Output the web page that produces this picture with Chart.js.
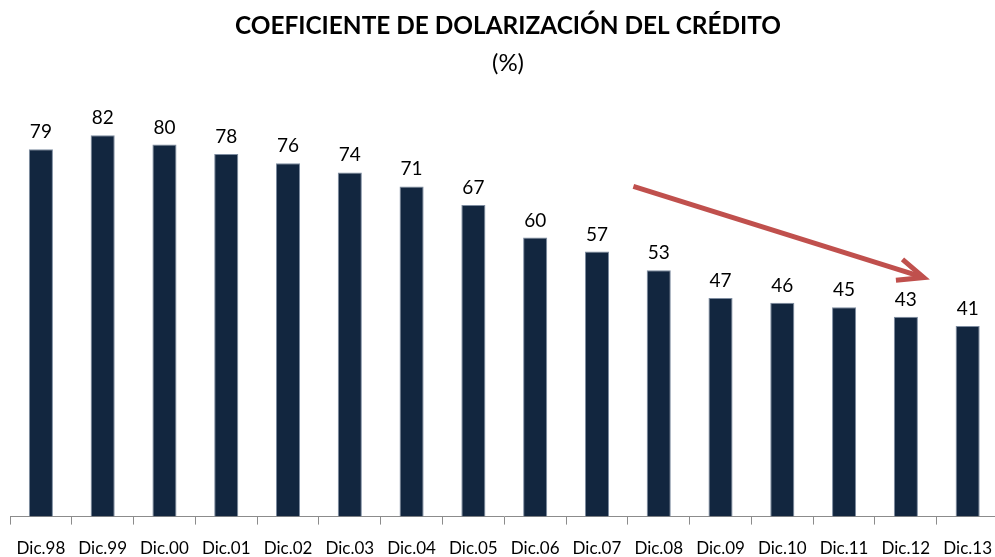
<!DOCTYPE html>
<html>
<head>
<meta charset="utf-8">
<script src="https://cdn.jsdelivr.net/npm/chart.js@4"></script>
<style>
  html, body { margin: 0; padding: 0; background: #fff; overflow: hidden; }
  #wrap { width: 995px; height: 557px; overflow: hidden; position: relative; }
  canvas { display: block; }
</style>
</head>
<body>
<div id="wrap"><canvas id="c" width="1006" height="573"></canvas></div>
<script>
const categories = ['Dic.98','Dic.99','Dic.00','Dic.01','Dic.02','Dic.03','Dic.04','Dic.05','Dic.06','Dic.07','Dic.08','Dic.09','Dic.10','Dic.11','Dic.12','Dic.13'];
const values = [79, 82, 80, 78, 76, 74, 71, 67, 60, 57, 53, 47, 46, 45, 43, 41];
const titleText = 'COEFICIENTE DE DOLARIZACIÓN DEL CRÉDITO';
const subtitleText = '(%)';
// trend arrow, in data units (category index, value)
const arrowStart = [9.59, 71.0];
const arrowEnd = [14.29, 51.4];

const valueLabels = {
  id: 'valueLabels',
  afterDatasetsDraw(chart) {
    const ctx = chart.ctx;
    const meta = chart.getDatasetMeta(0);
    ctx.save();
    ctx.font = '19px Lato';
    ctx.fillStyle = '#000';
    ctx.textAlign = 'center';
    ctx.textBaseline = 'alphabetic';
    meta.data.forEach((el, i) => {
      ctx.fillText(String(values[i]), el.x, el.y - 11);
    });
    ctx.restore();
  }
};

const trendArrow = {
  id: 'trendArrow',
  afterDatasetsDraw(chart) {
    const xs = chart.scales.x, ys = chart.scales.y;
    const x1 = xs.getPixelForValue(arrowStart[0]), y1 = ys.getPixelForValue(arrowStart[1]);
    const x2 = xs.getPixelForValue(arrowEnd[0]), y2 = ys.getPixelForValue(arrowEnd[1]);
    const ctx = chart.ctx;
    const ang = Math.atan2(y2 - y1, x2 - x1);
    const len = 28, spread = 23 * Math.PI / 180;
    ctx.save();
    ctx.strokeStyle = '#c0504d';
    ctx.lineWidth = 5;
    ctx.lineCap = 'butt';
    ctx.lineJoin = 'miter';
    ctx.beginPath();
    ctx.moveTo(x1, y1);
    ctx.lineTo(x2 - 2 * Math.cos(ang), y2 - 2 * Math.sin(ang));
    ctx.stroke();
    ctx.beginPath();
    ctx.moveTo(x2 - len * Math.cos(ang - spread), y2 - len * Math.sin(ang - spread));
    ctx.lineTo(x2, y2);
    ctx.lineTo(x2 - len * Math.cos(ang + spread), y2 - len * Math.sin(ang + spread));
    ctx.stroke();
    ctx.restore();
  }
};

new Chart(document.getElementById('c'), {
  type: 'bar',
  data: {
    labels: categories,
    datasets: [{
      data: values,
      backgroundColor: '#12263f',
      borderColor: '#7d8ca0',
      borderWidth: 1,
      categoryPercentage: 1,
      barPercentage: 0.39
    }]
  },
  options: {
    responsive: false,
    animation: false,
    devicePixelRatio: 1,
    layout: { padding: { left: 10, right: 0, top: 0, bottom: 0 } },
    plugins: {
      legend: { display: false },
      tooltip: { enabled: false },
      title: {
        display: true,
        text: titleText,
        color: '#000',
        font: { family: 'Lato', size: 24.4, weight: 'bold', lineHeight: 1.2 },
        padding: { top: 12, bottom: 8 }
      },
      subtitle: {
        display: true,
        text: subtitleText,
        color: '#000',
        font: { family: 'Lato', size: 24, weight: 'normal', lineHeight: 1.2 },
        padding: { top: 0, bottom: 20 }
      }
    },
    scales: {
      x: {
        offset: true,
        border: { display: true, color: '#8c8c8c', width: 1 },
        grid: { display: true, drawOnChartArea: false, drawTicks: true, tickLength: 8, color: '#8c8c8c', offset: true },
        ticks: { color: '#000', font: { family: 'Lato', size: 17, lineHeight: 1.2 }, padding: 14, maxRotation: 0, autoSkip: false }
      },
      y: {
        display: false,
        min: 0,
        max: 90
      }
    }
  },
  plugins: [valueLabels, trendArrow]
});
</script>
</body>
</html>
